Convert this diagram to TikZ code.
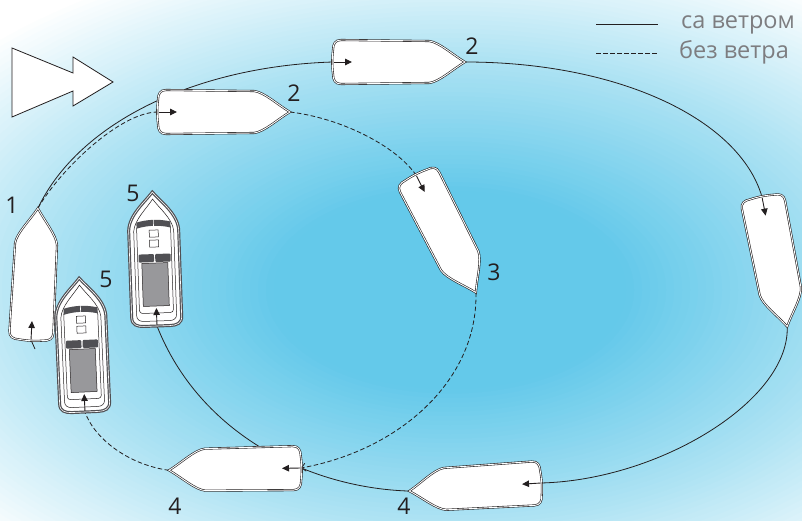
\documentclass[tikz,border=0pt]{standalone}
\usepackage{fontspec}
\setmainfont{Open Sans}
\usetikzlibrary{arrows.meta}

\definecolor{ink}{RGB}{35,31,32}
\definecolor{sea}{RGB}{100,201,234}
\definecolor{seamid}{RGB}{172,226,243}
\definecolor{trim}{RGB}{80,80,84}
\definecolor{deck}{RGB}{152,152,155}
\definecolor{keytext}{RGB}{125,125,128}

\pgfdeclarelayer{background}
\pgfsetlayers{background,main}

\tikzset{
 heading/.style={draw=ink,line width=.9pt,-{Triangle[length=7pt,width=6.5pt]}},
 sailboat/.pic={
  \filldraw[fill=white,draw=ink,line width=.6pt,double=white,double distance=.9pt]
   (132,0) .. controls (120,-7) and (106,-20) .. (96,-21) -- (8,-22)
   .. controls (2,-22) and (0,-18) .. (0,-12) .. controls (-1,-4) and (-1,4) .. (0,12)
   .. controls (0,18) and (2,22) .. (8,22) -- (96,21)
   .. controls (106,20) and (120,7) .. (132,0) -- cycle;
  \draw[heading] (1,0) -- (19,0);
  \coordinate (-stern) at (0,0);
  \coordinate (-bow) at (132,0);
 },
 motorboat/.pic={
  \filldraw[fill=white,draw=trim,line width=1.2pt,double=white,double distance=.6pt]
   (134,0) .. controls (124,-8) and (112,-24) .. (96,-25) -- (9,-25)
   .. controls (2,-25) and (0,-20) .. (0,-13) -- (0,13)
   .. controls (0,20) and (2,25) .. (9,25) -- (96,25)
   .. controls (112,24) and (124,8) .. (134,0) -- cycle;
  \draw[ink,line width=.5pt]
   (127,0) .. controls (118,-6) and (107,-19) .. (95,-20) -- (11,-20)
   .. controls (7,-20) and (5,-17) .. (5,-13) -- (5,13)
   .. controls (5,17) and (7,20) .. (11,20) -- (95,20)
   .. controls (107,19) and (118,6) .. (127,0) -- cycle;
  \draw[ink,line width=.5pt,rounded corners=3pt] (13,-17) rectangle (101,17);
  \fill[trim] (98,-17) .. controls (101,-6) and (101,6) .. (98,17)
   -- (104,17) .. controls (107,6) and (107,-6) .. (104,-17) -- cycle;
  \draw[white,line width=.6pt] (98,0) -- (107,0);
  \fill[trim,rounded corners=1pt] (64,-16) rectangle (72,-.6) (64,.6) rectangle (72,16);
  \filldraw[fill=white,draw=ink,line width=.5pt] (79,-4.5) rectangle (86,4.5) (89,-4.5) rectangle (96,4.5);
  \filldraw[fill=deck,draw=ink,line width=.5pt] (20,-13) rectangle (63,13);
  \draw[heading] (1,0) -- (18,0);
  \coordinate (-stern) at (0,0);
  \coordinate (-bow) at (134,0);
 }
}

\begin{document}
\begin{tikzpicture}[x=1pt,y=-1pt,
 track/.style={draw=ink,line width=.8pt},
 calm/.style={track,dash pattern=on 4.5pt off 2.5pt},
 num/.style={text=ink,font=\fontsize{23}{23}\selectfont,inner sep=0pt},
 key/.style={text=keytext,font=\fontsize{23.5}{24}\selectfont,anchor=base west,inner sep=0pt}]
\useasboundingbox (0,0) rectangle (802,521);

\pic[rotate=87] (b1) at (31,340) {sailboat};
\pic (b2a) at (158,112) {sailboat};
\pic (b2b) at (333,62) {sailboat};
\pic[rotate=-63] (b3) at (416,175) {sailboat};
\pic[rotate=-79] (b6) at (762,197) {sailboat};
\pic[rotate=181] (b4a) at (301,468) {sailboat};
\pic[rotate=183.5] (b4b) at (541,483) {sailboat};
\pic[rotate=92] (m5a) at (157,326) {motorboat};
\pic[rotate=92.5] (m5b) at (85,412) {motorboat};
\coordinate (tail) at (35,349);

\node[num] (l1) at (12,205) {1};
\node[num] (l2a) at (294,93) {2};
\node[num] (l2b) at (472,46) {2};
\node[num] (l3) at (494,272) {3};
\node[num] (l4a) at (175,506) {4};
\node[num] (l4b) at (404,506) {4};
\node[num] (l5a) at (133,193) {5};
\node[num] (l5b) at (106,279) {5};

% wind
\draw[ink,fill=white,line width=.8pt] (12,48) -- (73,73) -- (73,57) -- (113,82)
 -- (73,106) -- (73,91) -- (12,117) -- cycle;

\coordinate (k1) at (596,24);
\coordinate (k1e) at (658,24);
\coordinate (k2) at (596,53);
\coordinate (k2e) at (658,53);
\draw[track] (k1) -- (k1e);
\draw[calm] (k2) -- (k2e);
\node[key] (t1) at (681,29) {са ветром};
\node[key] (t2) at (679,59) {без ветра};

\begin{pgfonlayer}{background}
\clip (0,0) rectangle (802,521);
\fill[white] (0,0) rectangle (802,521);
\foreach \k in {80,...,1}{
 \pgfmathsetmacro\rr{\k/80}
 \pgfmathsetmacro\pa{max(0,min(100,(\rr-0.64)/0.36*100))}
 \pgfmathsetmacro\pb{max(0,min(100,(\rr-0.28)/0.36*100))}
 \fill[white!\pa!seamid!\pb!sea] (450,290) ellipse [x radius=640*\rr, y radius=360*\rr];
}
\draw[track] (b1-bow) .. controls (80,120) and (200,66) .. (b2b-stern);
\draw[track] (b2b-bow) .. controls (620,62) and (740,120) .. (b6-stern);
\draw[track] (b6-bow) .. controls (790,400) and (660,480) .. (b4b-stern);
\draw[track] (b4b-bow) .. controls (310,488) and (200,435) .. (m5a-stern);
\draw[track] (b1-stern) -- (tail);
\draw[calm] (b1-bow) .. controls (60,170) and (120,112) .. (b2a-stern);
\draw[calm] (b2a-bow) .. controls (340,118) and (395,145) .. (b3-stern);
\draw[calm,-{Straight Barb[length=4pt,width=8pt]}] (b3-bow) .. controls (478,380) and (400,450) .. (b4a-stern);
\draw[calm] (b4a-bow) .. controls (130,465) and (95,440) .. (m5b-stern);
\end{pgfonlayer}
\end{tikzpicture}
\end{document}
